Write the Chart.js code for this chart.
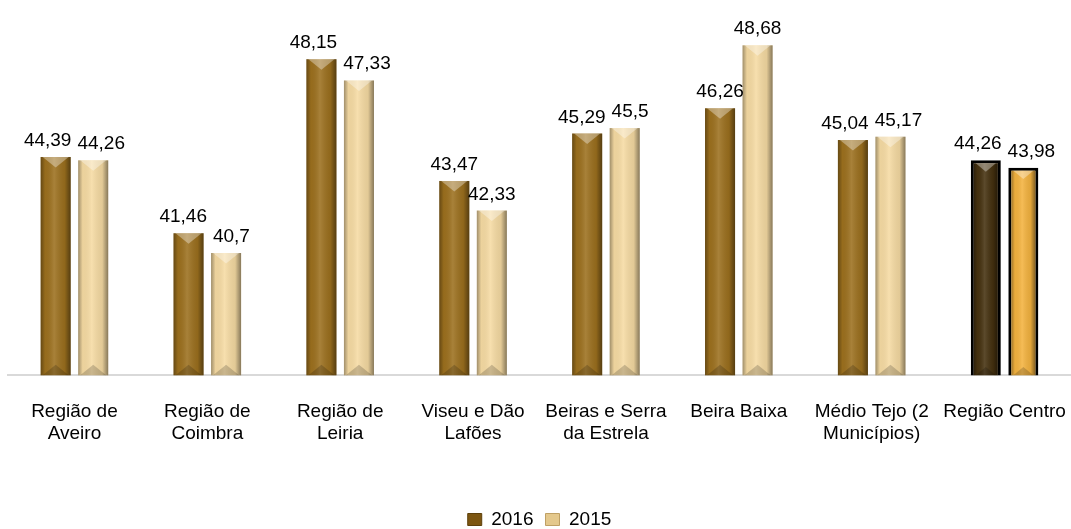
<!DOCTYPE html>
<html lang="pt">
<head>
<meta charset="UTF-8">
<title>Regiões</title>
<script src="https://cdn.jsdelivr.net/npm/chart.js@4.4.1/dist/chart.umd.min.js"></script>
<style>
    body { margin: 0; background: #ffffff; }
    .chart-container { position: relative; width: 1071px; height: 529px; }
</style>
</head>
<body>
<div class="chart-container">
    <canvas id="chart"></canvas>
</div>
<script>
var regioes = [
    ["Região de", "Aveiro"], ["Região de", "Coimbra"], ["Região de", "Leiria"],
    ["Viseu e Dão", "Lafões"], ["Beiras e Serra", "da Estrela"], "Beira Baixa",
    ["Médio Tejo (2", "Municípios)"], "Região Centro"
];
var valores2016 = [44.39, 41.46, 48.15, 43.47, 45.29, 46.26, 45.04, 44.26];
var valores2015 = [44.26, 40.7, 47.33, 42.33, 45.5, 48.68, 45.17, 43.98];

var FONT = '"Liberation Sans", Arial, sans-serif';

// last group (Região Centro) is highlighted
var ultimo = regioes.length - 1;
var cor2016 = regioes.map((r, i) => i === ultimo ? '#45310f' : '#9c701e');
var cor2015 = regioes.map((r, i) => i === ultimo ? '#f4b33f' : '#f6dba3');
var bordas = regioes.map((r, i) => i === ultimo ? 3 : 0);

// bevel look on each bar
var bevel = {
    id: 'bevel',
    afterDatasetsDraw(chart) {
        var ctx = chart.ctx;
        var fundo = chart.chartArea.bottom;
        chart.data.datasets.forEach((ds, di) => {
            chart.getDatasetMeta(di).data.forEach((bar, i) => {
                var b = ds.borderWidth[i] || 0;
                var w = bar.width - 2 * b, l = bar.x - w / 2, r = bar.x + w / 2;
                var top = bar.y + b, base = fundo;
                var g = ctx.createLinearGradient(l, 0, r, 0);
                g.addColorStop(0, 'rgba(0,0,0,0.35)');
                g.addColorStop(0.15, 'rgba(0,0,0,0.04)');
                g.addColorStop(0.45, 'rgba(255,255,255,0.12)');
                g.addColorStop(0.8, 'rgba(0,0,0,0.08)');
                g.addColorStop(1, 'rgba(0,0,0,0.45)');
                ctx.save();
                ctx.fillStyle = g;
                ctx.fillRect(l, top, w, base - top);
                var h = w * 0.35;
                ctx.fillStyle = 'rgba(255,255,255,0.35)';
                ctx.beginPath();
                ctx.moveTo(l + 2, top);
                ctx.lineTo(r - 2, top);
                ctx.lineTo(bar.x, top + h);
                ctx.closePath();
                ctx.fill();
                ctx.fillStyle = 'rgba(0,0,0,0.18)';
                ctx.beginPath();
                ctx.moveTo(l + 2, base);
                ctx.lineTo(r - 2, base);
                ctx.lineTo(bar.x, base - h);
                ctx.closePath();
                ctx.fill();
                ctx.restore();
            });
        });
    }
};

// value labels above bars, pushed apart when the pair would collide
var rotulos = {
    id: 'rotulos',
    afterDatasetsDraw(chart) {
        var ctx = chart.ctx;
        ctx.save();
        ctx.font = '19px ' + FONT;
        ctx.fillStyle = '#000';
        ctx.textAlign = 'center';
        ctx.textBaseline = 'alphabetic';
        var a = chart.getDatasetMeta(0).data, b = chart.getDatasetMeta(1).data;
        var dsA = chart.data.datasets[0].data, dsB = chart.data.datasets[1].data;
        a.forEach((barA, i) => {
            var barB = b[i];
            var tA = String(dsA[i]).replace('.', ','), tB = String(dsB[i]).replace('.', ',');
            var xA = barA.x, xB = barB.x;
            var fimA = xA + ctx.measureText(tA).width / 2;
            var iniB = xB - ctx.measureText(tB).width / 2;
            var sobra = fimA + 6 - iniB;
            if (sobra > 0 && Math.abs(barA.y - barB.y) < 24) {
                xA -= sobra / 2;
                xB += sobra / 2;
            }
            ctx.fillText(tA, xA, barA.y - 11);
            ctx.fillText(tB, xB, barB.y - 11);
        });
        ctx.restore();
    }
};

// keep the legend close to the bottom edge
var legendaBaixa = {
    id: 'legendaBaixa',
    beforeInit(chart) {
        var fit = chart.legend.fit;
        chart.legend.fit = function () {
            fit.bind(chart.legend)();
            this.height -= 10;
        };
    }
};

new Chart(document.getElementById('chart'), {
    type: 'bar',
    data: {
        labels: regioes,
        datasets: [{
            label: '2016',
            data: valores2016,
            backgroundColor: cor2016,
            borderColor: '#000',
            borderWidth: bordas,
            categoryPercentage: 0.565,
            barPercentage: 0.8
        }, {
            label: '2015',
            data: valores2015,
            backgroundColor: cor2015,
            borderColor: '#000',
            borderWidth: bordas,
            categoryPercentage: 0.565,
            barPercentage: 0.8
        }]
    },
    options: {
        responsive: true,
        maintainAspectRatio: false,
        animation: false,
        layout: { padding: { top: 11, left: 8, right: 0, bottom: 0 } },
        scales: {
            x: {
                grid: { display: false },
                border: { color: '#d9d9d9', width: 2 },
                ticks: { color: '#000', font: { size: 19, family: FONT, lineHeight: 1.15 }, maxRotation: 0, autoSkip: false, padding: 18 },
                afterFit: (scale) => {
                    scale.height += 35;
                    scale.paddingLeft = 0;
                    scale.paddingRight = 0;
                }
            },
            y: {
                display: false,
                min: 36,
                max: 50
            }
        },
        plugins: {
            tooltip: { enabled: false },
            legend: {
                position: 'bottom',
                labels: {
                    color: '#000',
                    font: { size: 19, family: FONT },
                    boxWidth: 14,
                    boxHeight: 12,
                    padding: 12,
                    generateLabels: () => [
                        { text: '2016', fillStyle: '#7d5611', strokeStyle: '#5e400b', lineWidth: 1, datasetIndex: 0 },
                        { text: '2015', fillStyle: '#e4c88c', strokeStyle: '#bfa064', lineWidth: 1, datasetIndex: 1 }
                    ]
                }
            }
        }
    },
    plugins: [bevel, rotulos, legendaBaixa]
});
</script>
</body>
</html>
